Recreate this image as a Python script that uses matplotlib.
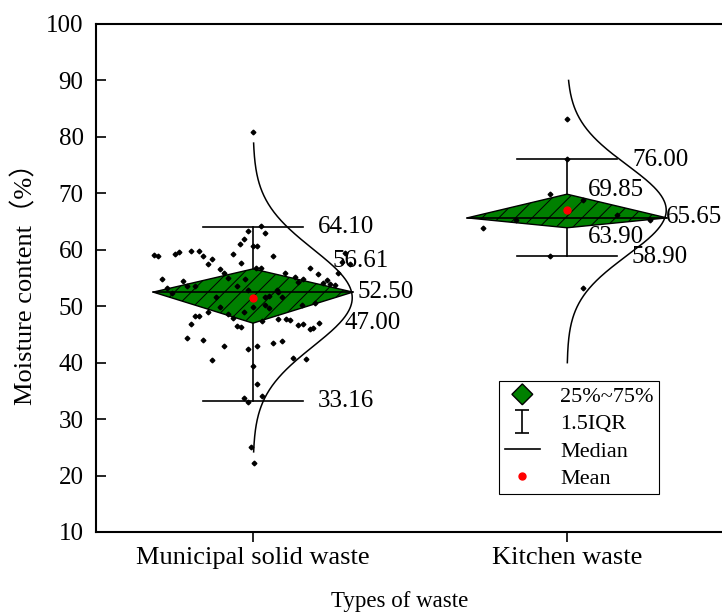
import numpy as np
import matplotlib
matplotlib.use("Agg")
import matplotlib.pyplot as plt
from matplotlib.patches import Polygon
from matplotlib.lines import Line2D
from matplotlib.legend_handler import HandlerPatch

plt.rcParams['font.family'] = ['Liberation Serif', 'Noto Sans CJK SC']
plt.rcParams['hatch.linewidth'] = 0.7

# summary values per waste type
categories = ["Municipal solid waste", "Kitchen waste"]
q1 = [47.00, 63.90]
median = [52.50, 65.65]
q3 = [56.61, 69.85]
whisker_lo = [33.16, 58.90]
whisker_hi = [64.10, 76.00]
means = [51.45, 67.0]

# fitted normal curve per group
curve_mu = [51.5, 67.0]
curve_sd = [8.6, 8.0]
curve_lo = [24.2, 40.0]
curve_hi = [78.9, 90.0]

# raw samples (jitter = horizontal offset from the category centre)
msw_jitter = [0.000, -0.015, 0.000, -0.029, -0.041, -0.315, -0.302, -0.249, -0.235, -0.197,
              -0.171, -0.158, -0.132, -0.144, -0.065, -0.039, -0.105, -0.091, -0.289, -0.224,
              -0.079, -0.025, -0.052, -0.211, -0.185, -0.275,
              0.025, 0.038, 0.012, 0.065, 0.180, 0.208, 0.272, 0.282, 0.309, 0.008,
              0.025, 0.102, 0.134, 0.160, 0.235, 0.245, 0.261, 0.222, 0.144,
              -0.118, -0.105, -0.144, -0.079, -0.065, -0.028, 0.000, -0.185, -0.171, -0.197,
              -0.052, -0.039, -0.211, -0.158, -0.092, -0.015, -0.132, 0.000, -0.028, -0.015,
              -0.007, 0.003,
              0.038, 0.052, 0.038, 0.052, 0.081, 0.197, 0.155, 0.028, 0.079, 0.105,
              0.118, 0.144, 0.158, 0.182, 0.192, 0.210, 0.065, 0.091, 0.012, 0.128,
              0.169, 0.012, 0.028,
              -0.259, -0.015, 0.075, 0.091, 0.293]
msw_y = [80.9, 63.3, 60.7, 61.9, 61.1, 59.1, 58.9, 59.2, 59.6, 59.7,
         59.7, 58.95, 58.3, 57.5, 59.2, 57.7, 56.6, 55.9, 54.9, 54.5,
         55.05, 54.9, 53.6, 53.6, 53.6, 53.2,
         64.2, 62.9, 60.7, 58.9, 56.8, 55.65, 55.8, 57.9, 57.5, 56.7,
         56.7, 55.9, 55.1, 54.8, 54.6, 53.9, 53.8, 54.05, 54.3,
         51.6, 49.8, 49.0, 48.7, 47.9, 49.0, 49.8, 48.3, 48.3, 46.8,
         46.5, 46.4, 44.3, 44.0, 43.0, 42.4, 40.5, 39.4, 33.7, 33.1,
         25.0, 22.3,
         51.7, 51.8, 50.2, 49.6, 52.6, 50.6, 50.2, 47.3, 47.7, 47.7,
         47.55, 46.7, 46.85, 46.0, 46.2, 47.0, 43.5, 43.9, 43.0, 40.9,
         40.6, 36.2, 34.1,
         52.3, 52.9, 52.9, 51.7, 59.4]
kw_jitter = [0.000, 0.000, -0.054, 0.052, -0.162, -0.269, -0.054, 0.052, 0.158, 0.264]
kw_y = [83.1, 76.0, 69.8, 68.8, 65.3, 63.9, 58.95, 53.3, 66.2, 65.2]

# value labels: (text, x offset, y)
msw_labels = [("64.10", 0.207, 64.1), ("56.61", 0.252, 58.1), ("52.50", 0.334, 52.5),
              ("47.00", 0.290, 47.0), ("33.16", 0.207, 33.2)]
kw_labels = [("76.00", 0.207, 75.9), ("69.85", 0.067, 70.6), ("65.65", 0.316, 65.8),
             ("63.90", 0.067, 62.3), ("58.90", 0.207, 58.8)]

fig = plt.figure(figsize=(7.22, 6.16), dpi=100)
ax = fig.add_axes([96 / 722, 84 / 616, 628 / 722, 508 / 616])

half_w = 0.318
cap_w = 0.16
curve_amp = 0.316
positions = [1, 2]

for i, x in enumerate(positions):
    # whisker line and caps
    ax.plot([x, x], [whisker_lo[i], whisker_hi[i]], color='k', lw=1.2, zorder=1)
    ax.plot([x - cap_w, x + cap_w], [whisker_lo[i]] * 2, color='k', lw=1.2, zorder=1)
    ax.plot([x - cap_w, x + cap_w], [whisker_hi[i]] * 2, color='k', lw=1.2, zorder=1)
    # diamond box
    diamond = Polygon([(x - half_w, median[i]), (x, q3[i]), (x + half_w, median[i]), (x, q1[i])],
                      closed=True, facecolor='#008000', edgecolor='k', lw=1.0,
                      hatch='//', zorder=2)
    ax.add_patch(diamond)
    ax.plot([x - half_w, x + half_w], [median[i]] * 2, color='k', lw=1.2, zorder=3)
    # normal curve
    yy = np.linspace(curve_lo[i], curve_hi[i], 300)
    xx = x + curve_amp * np.exp(-(yy - curve_mu[i]) ** 2 / (2 * curve_sd[i] ** 2))
    ax.plot(xx, yy, color='k', lw=1.1, zorder=3)

ax.plot(1 + np.array(msw_jitter), msw_y, linestyle='none', marker='D', ms=2.4,
        color='k', zorder=4)
ax.plot(2 + np.array(kw_jitter), kw_y, linestyle='none', marker='D', ms=2.4,
        color='k', zorder=4)
ax.plot(positions, means, linestyle='none', marker='o', ms=5, color='red', zorder=5)

for x, labels in zip(positions, [msw_labels, kw_labels]):
    for txt, dx, y in labels:
        ax.text(x + dx, y, txt, fontsize=18, va='center', ha='left', zorder=6)

ax.set_xlim(0.5, 2.5)
ax.set_ylim(10, 100)
ax.set_yticks(np.arange(10, 101, 10))
ax.set_xticks(positions)
ax.set_xticklabels(categories)
ax.tick_params(axis='x', direction='out', length=7, width=1.2, labelsize=19, pad=4)
ax.tick_params(axis='y', direction='in', length=7, width=1.2, labelsize=18, pad=9)
for s in ax.spines.values():
    s.set_linewidth(1.5)
ax.set_ylabel("Moisture content（%）", fontsize=19, labelpad=6)
ax.set_xlabel("Types of waste", fontsize=16.5, labelpad=16, x=0.484)

# legend
eb = ax.errorbar([np.nan], [np.nan], yerr=[[1], [1]], fmt='none', ecolor='k',
                 elinewidth=1.2, capsize=5, capthick=1.2)
box_proxy = Polygon([(0, 0), (1, 0), (1, 1)], facecolor='#008000', edgecolor='k',
                    lw=1.0, hatch='/')


def make_diamond(legend, orig_handle, xdescent, ydescent, width, height, fontsize):
    cx = width / 2 - xdescent
    cy = height / 2 - ydescent
    r = 7.5
    return Polygon([(cx - r, cy), (cx, cy + r), (cx + r, cy), (cx, cy - r)], closed=True)


handles = [box_proxy, eb,
           Line2D([], [], color='k', lw=1.2),
           Line2D([], [], color='red', marker='o', ms=5, linestyle='none')]
labels = ["25%~75%", "1.5IQR", "Median", "Mean"]
leg = ax.legend(handles, labels, loc='upper left', bbox_to_anchor=(499 / 722, 1 - 381 / 616),
                bbox_transform=fig.transFigure, borderaxespad=0, fontsize=16,
                frameon=True, fancybox=False, framealpha=1, edgecolor='k',
                handlelength=1.6, handletextpad=0.9, borderpad=0.25, labelspacing=0.3,
                handler_map={Polygon: HandlerPatch(patch_func=make_diamond)})
leg.get_frame().set_linewidth(0.8)

fig.savefig("out.png", dpi=100)
